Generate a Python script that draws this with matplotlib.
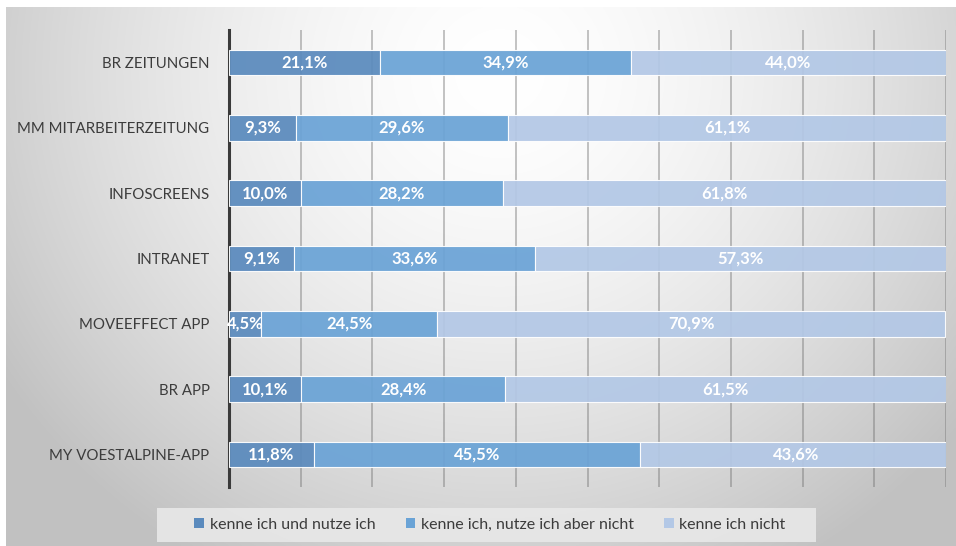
import numpy as np
import matplotlib
matplotlib.use("Agg")
import matplotlib.pyplot as plt
from matplotlib.patches import Patch, Rectangle

categories = ["BR ZEITUNGEN", "MM MITARBEITERZEITUNG", "INFOSCREENS", "INTRANET",
              "MOVEEFFECT APP", "BR APP", "MY VOESTALPINE-APP"]
nutze = [21.1, 9.3, 10.0, 9.1, 4.5, 10.1, 11.8]
nicht_nutze = [34.9, 29.6, 28.2, 33.6, 24.5, 28.4, 45.5]
kenne_nicht = [44.0, 61.1, 61.8, 57.3, 70.9, 61.5, 43.6]
series_names = ["kenne ich und nutze ich", "kenne ich, nutze ich aber nicht", "kenne ich nicht"]
colors = ["#5a8abd", "#6aa3d6", "#b3c8e6"]

W, H = 956, 546
plt.rcParams['font.family'] = ['Lato', 'DejaVu Sans']
fig = plt.figure(figsize=(W / 100, H / 100), dpi=100)
fig.patch.set_facecolor("white")

# background panel with radial gradient
bg = fig.add_axes([6 / W, 0, (W - 6) / W, (H - 7) / H])
bg.set_axis_off()
ny, nx = 300, 500
yy, xx = np.mgrid[0:1:ny * 1j, 0:1:nx * 1j]
d = np.sqrt(((xx - 0.52) / 0.62) ** 2 + ((yy - 0.12) / 1.05) ** 2)
d = np.clip(d, 0, 1)
v = 1.0 - (1.0 - 0.76) * d ** 1.6
img = np.dstack([v, v, v])
bg.imshow(img, aspect="auto", extent=[0, 1, 1, 0], interpolation="bilinear")
bg.set_xlim(0, 1)
bg.set_ylim(1, 0)

# legend box
fig.patches.append(Rectangle((157 / W, 1 - 542 / H), (816 - 157) / W, 34 / H,
                             transform=fig.transFigure, facecolor="#e8e8e8",
                             edgecolor="none", alpha=0.9, zorder=1))

# main axes
x0, x1 = 229, 946
ytop, ybot = 30, 487
ax = fig.add_axes([x0 / W, 1 - ybot / H, (x1 - x0) / W, (ybot - ytop) / H])
ax.patch.set_alpha(0)
ax.set_xlim(0, 100)
ax.set_ylim(len(categories) - 0.5, -0.5)

ypos = np.arange(len(categories))
ax.set_xticks(np.arange(0, 101, 10))
ax.xaxis.grid(True, color="#707070", alpha=0.45, linewidth=1.3)
ax.set_axisbelow(True)
ax.tick_params(axis="x", length=0, labelbottom=False)
for s in ["top", "right", "bottom"]:
    ax.spines[s].set_visible(False)
ax.spines["left"].set_color("#3a3a3a")
ax.spines["left"].set_linewidth(2.2)

left = np.zeros(len(categories))
for vals, col, name in zip([nutze, nicht_nutze, kenne_nicht], colors, series_names):
    vals = np.array(vals)
    ax.barh(ypos, vals, left=left, height=0.39, color=col, alpha=0.93,
            edgecolor="white", linewidth=0.8, label=name, zorder=3)
    for yi, (l, w) in enumerate(zip(left, vals)):
        ax.text(l + w / 2, yi, f"{w:.1f}".replace(".", ",") + "%", ha="center",
                va="center", color="white", fontsize=12, fontweight="bold", zorder=4)
    left = left + vals

ax.set_yticks(ypos)
ax.set_yticklabels(categories, fontsize=10.8, color="#3c3c3c")
ax.tick_params(axis="y", length=0, pad=14)

handles = [Patch(facecolor=c, edgecolor="none") for c in colors]
leg = fig.legend(handles, series_names, loc="center", bbox_to_anchor=(490 / W, 1 - 525 / H),
                 ncol=3, frameon=False, fontsize=11.5, handlelength=0.6, handleheight=0.6,
                 handletextpad=0.35, columnspacing=1.9, borderpad=0.3, borderaxespad=0)
for t in leg.get_texts():
    t.set_color("#3c3c3c")
leg.set_zorder(5)

fig.savefig("out.png", dpi=100, facecolor=fig.get_facecolor())
